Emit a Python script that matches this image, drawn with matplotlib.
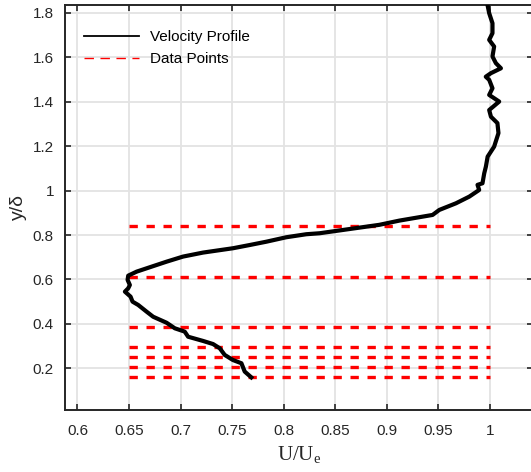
import matplotlib
matplotlib.use('Agg')
import matplotlib.pyplot as plt

plt.rcParams['font.family'] = ['Liberation Sans', 'DejaVu Sans']
plt.rcParams['mathtext.fontset'] = 'custom'
plt.rcParams['mathtext.rm'] = 'Liberation Serif'

# measured velocity profile U/Ue vs y/delta
u_ratio = [0.7686, 0.7622, 0.759, 0.7508, 0.7428, 0.738, 0.7315, 0.7218, 0.7073, 0.704,
           0.6944, 0.6864, 0.6734, 0.667, 0.6589, 0.6534, 0.6515, 0.646, 0.6492, 0.6508,
           0.6486, 0.6492, 0.6573, 0.6702, 0.6864, 0.7024, 0.7218, 0.7508, 0.767, 0.7832,
           0.8025, 0.8219, 0.8348, 0.8638, 0.8928, 0.9122, 0.9444, 0.9509, 0.9671, 0.98,
           0.9896, 0.988, 0.9928, 0.9945, 0.9961, 0.9978, 1.0041, 1.0083, 1.0073, 1.001,
           0.9993, 1.009, 0.9993, 1.0025, 0.9993, 0.996, 1.001, 1.0107, 1.0058, 1.0025,
           1.0041, 0.9993, 1.0025, 1.0025, 0.9993, 0.9977]
y_delta = [0.159, 0.185, 0.2225, 0.237, 0.26, 0.29, 0.309, 0.323, 0.342, 0.365,
           0.38, 0.405, 0.432, 0.455, 0.485, 0.5, 0.5225, 0.545, 0.56, 0.575,
           0.598, 0.617, 0.635, 0.655, 0.68, 0.703, 0.721, 0.7405, 0.755, 0.77,
           0.79, 0.8036, 0.808, 0.827, 0.846, 0.865, 0.8905, 0.913, 0.943, 0.973,
           1.003, 1.026, 1.033, 1.078, 1.108, 1.153, 1.198, 1.259, 1.304, 1.333,
           1.363, 1.401, 1.431, 1.461, 1.499, 1.513, 1.529, 1.551, 1.574, 1.604,
           1.649, 1.679, 1.709, 1.754, 1.799, 1.836]

# sampling heights
data_y = [0.842, 0.613, 0.387, 0.297, 0.252, 0.204, 0.159]
data_x_range = [0.65, 1.0]

xticks = [0.6, 0.65, 0.7, 0.75, 0.8, 0.85, 0.9, 0.95, 1.0]
xticklabels = ['0.6', '0.65', '0.7', '0.75', '0.8', '0.85', '0.9', '0.95', '1']
yticks = [0.2, 0.4, 0.6, 0.8, 1.0, 1.2, 1.4, 1.6, 1.8]
yticklabels = ['0.2', '0.4', '0.6', '0.8', '1', '1.2', '1.4', '1.6', '1.8']

fig = plt.figure(figsize=(5.31, 4.72), dpi=100)
ax = fig.add_axes([65 / 531, 62 / 472, 468 / 531, 405 / 472])

ax.plot(u_ratio, y_delta, color='black', lw=3.0, label='Velocity Profile', zorder=3)
for i, yv in enumerate(data_y):
    ax.plot(data_x_range, [yv, yv], color='red', lw=2.4, dashes=(2.5, 2.6),
            label='Data Points' if i == 0 else None, zorder=2)

ax.set_xlim(0.5879, 1.0418)
ax.set_ylim(0.012, 1.836)
ax.set_xticks(xticks)
ax.set_xticklabels(xticklabels)
ax.set_yticks(yticks)
ax.set_yticklabels(yticklabels)
ax.grid(True, color='#e3e3e3', lw=1.3)
ax.set_axisbelow(True)

ax.tick_params(direction='in', length=4, width=1.2, top=True, right=True,
               labelsize=11, colors='#262626')
ax.tick_params(axis='x', pad=10)
ax.tick_params(axis='y', pad=8)
for sp in ax.spines.values():
    sp.set_linewidth(1.4)
    sp.set_color('#262626')

ax.set_xlabel(r'U/U$_\mathrm{e}$', fontfamily='Liberation Serif', fontsize=15,
              color='#262626', labelpad=5)
ax.set_ylabel('y/δ', fontsize=14, color='#262626', labelpad=4)

leg = ax.legend(loc='upper left', bbox_to_anchor=(4 / 468, 1 - 10 / 405),
                frameon=False, fontsize=11, handlelength=3.6,
                handletextpad=0.7, borderaxespad=0.6, labelspacing=0.5)
lines = leg.get_lines()
lines[0].set_linewidth(1.3)
lines[1].set_linewidth(1.0)
lines[1].set_dashes((6.8, 4.7))

fig.savefig('out.png', dpi=100)
